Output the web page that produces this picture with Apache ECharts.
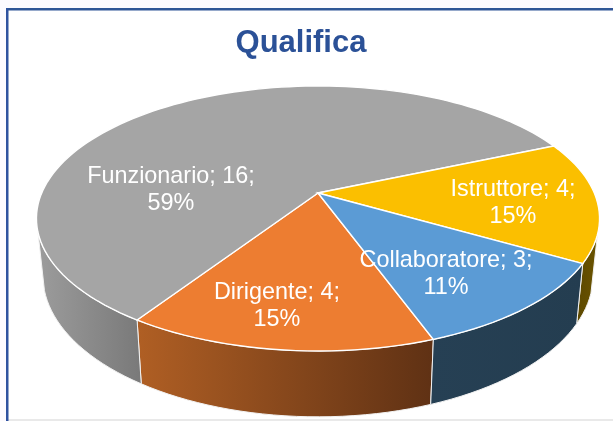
<!DOCTYPE html>
<html lang="en">
<head>
    <meta charset="UTF-8">
    <title>Qualifica</title>
    <script src="https://cdn.jsdelivr.net/npm/echarts@6/dist/echarts.min.js"></script>
    <style>
        html,body{margin:0;padding:0;background:#fcfaff;}
        #chart{width:613px;height:421px;}
    </style>
</head>
<body>
    <div id="chart"></div>
<script>
    var categories = ['Dirigente', 'Funzionario', 'Istruttore', 'Collaboratore'];
    var values = [4, 16, 4, 3];
    var titleText = 'Qualifica';

    // colours of the top face and of the side wall (left to right)
    var topColors = ['#ed7d31', '#a5a5a5', '#fbbf00', '#5b9bd5'];
    var wallColors = [['#b05f24', '#5f3114'], ['#9c9c9c', '#797979'], ['#5c4800', '#6b5400'], ['#264054', '#243d50']];
    // label centres in pixels, one per category
    var labelPos = [[277, 306], [171, 190], [513, 203], [446, 274]];

    // perspective projection of the unit circle
    var apexX = 318, apexY = 193, radX = 276.3, radY = 127.6, persp = 0.1924;
    var startAngle = 160, wallFrom = 108, wallTo = 253;

    var total = values.reduce(function (a, b) { return a + b; }, 0);

    function topPoint(deg) {
        var a = deg * Math.PI / 180, w = 1 + persp * Math.cos(a);
        return [apexX + radX * Math.sin(a) / w, apexY - radY * Math.cos(a) / w];
    }
    function bottomPoint(deg) {
        var p = topPoint(deg);
        return [apexX + (p[0] - apexX) * 0.977, p[1] * 1.065 + 43];
    }
    function arc(fn, from, to) {
        var pts = [], n = Math.max(2, Math.ceil(Math.abs(to - from) / 2));
        for (var i = 0; i <= n; i++) pts.push(fn(from + (to - from) * i / n));
        return pts;
    }
    function sliceRange(idx) {
        var before = 0;
        for (var i = 0; i < idx; i++) before += values[i];
        return [startAngle + before / total * 360, startAngle + (before + values[idx]) / total * 360];
    }

    function renderWall(params) {
        var r = sliceRange(params.dataIndex);
        var from = r[0], to = r[1];
        // the wall only shows on the front of the disc
        var shifted = from > 360 ? -360 : 0;
        var a = Math.max(from + shifted, wallFrom), b = Math.min(to + shifted, wallTo);
        if (b <= a) return null;
        var c = wallColors[params.dataIndex];
        var pts = arc(topPoint, a, b).concat(arc(bottomPoint, b, a));
        return {
            type: 'polygon',
            shape: { points: pts },
            style: {
                fill: new echarts.graphic.LinearGradient(0, 0, 1, 0, [
                    { offset: 0, color: c[0] },
                    { offset: 1, color: c[1] }
                ]),
                stroke: '#f2f2f2',
                lineWidth: 1
            }
        };
    }

    function renderTop(params) {
        var r = sliceRange(params.dataIndex);
        var pts = [[apexX, apexY]].concat(arc(topPoint, r[0], r[1]));
        return {
            type: 'polygon',
            shape: { points: pts },
            style: { fill: topColors[params.dataIndex], stroke: '#ffffff', lineWidth: 1.4 }
        };
    }

    function renderLabel(params) {
        var i = params.dataIndex;
        var pct = Math.round(values[i] / total * 100);
        return {
            type: 'text',
            x: labelPos[i][0],
            y: labelPos[i][1],
            style: {
                text: categories[i] + '; ' + values[i] + ';\n' + pct + '%',
                fill: '#ffffff',
                font: '23.4px "Liberation Sans", Arial, sans-serif',
                lineHeight: 27,
                align: 'center',
                verticalAlign: 'middle'
            }
        };
    }

    var chart = echarts.init(document.getElementById('chart'), null, { renderer: 'canvas' });
    chart.setOption({
        animation: false,
        backgroundColor: '#fcfaff',
        title: {
            text: titleText,
            left: 296,
            top: 23,
            textAlign: 'center',
            textStyle: { color: '#2b5197', fontSize: 31, fontWeight: 'bold', fontFamily: '"Liberation Sans", Arial, sans-serif' }
        },
        graphic: [
            { type: 'rect', z: -1, shape: { x: 7, y: 9, width: 606, height: 410 }, style: { fill: '#ffffff' } },
            { type: 'rect', z: -1, shape: { x: 7, y: 419, width: 606, height: 2 }, style: { fill: '#e9e9e9' } },
            { type: 'rect', z: 0, shape: { x: 6, y: 8, width: 607, height: 2.5 }, style: { fill: '#2f5597' } },
            { type: 'rect', z: 0, shape: { x: 6, y: 8, width: 2.5, height: 413 }, style: { fill: '#2f52a0' } }
        ],
        series: [
            { type: 'custom', coordinateSystem: 'none', renderItem: renderWall, data: values, z: 2, silent: true },
            { type: 'custom', coordinateSystem: 'none', renderItem: renderTop, data: values, z: 3, silent: true },
            { type: 'custom', coordinateSystem: 'none', renderItem: renderLabel, data: values, z: 4, silent: true }
        ]
    });
</script>
</body>
</html>
